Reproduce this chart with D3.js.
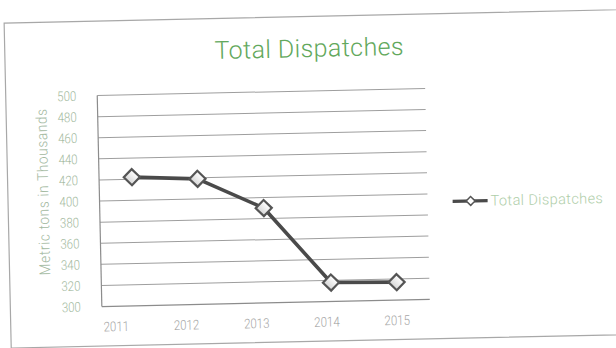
<!DOCTYPE html>
<html>
<head>
<meta charset="utf-8">
<script src="https://cdn.jsdelivr.net/npm/d3@7"></script>
<style>
  html, body { margin: 0; padding: 0; background: #fff; }
  svg { display: block; }
</style>
</head>
<body>
<svg id="chart" width="616" height="348"></svg>
<script>
// Total dispatches, metric tons in thousands
const years = ["2011", "2012", "2013", "2014", "2015"];
const dispatches = [422, 419, 390, 318, 317];
const yTicks = [300, 320, 340, 360, 380, 400, 420, 440, 460, 480, 500];
const titleText = "Total Dispatches";
const yAxisTitle = "Metric tons in Thousands";
const seriesName = "Total Dispatches";

const svg = d3.select("#chart");

// the printed page sits slightly askew
const page = svg.append("g").attr("transform", "rotate(-1.25 308 174)");

// card outline
page.append("rect")
  .attr("x", 7.5).attr("y", 16.5)
  .attr("width", 700).attr("height", 325)
  .attr("fill", "#fff")
  .attr("stroke", "#a8a8a8").attr("stroke-width", 1.2);

const plot = { left: 99, right: 427, top: 91, bottom: 302 };

const x = d3.scaleBand().domain(years).range([plot.left, plot.right]);
const xLabel = d3.scalePoint().domain(years).range([113, 394]);
const y = d3.scaleLinear().domain([300, 500]).range([plot.bottom, plot.top]);

const textFont = "Roboto, 'Liberation Sans', sans-serif";

// title
page.append("text")
  .attr("x", 312).attr("y", 57)
  .attr("text-anchor", "middle")
  .attr("font-family", textFont)
  .attr("font-weight", 300)
  .attr("font-size", 25)
  .attr("letter-spacing", 0.4)
  .attr("fill", "#62a85c")
  .text(titleText);

// horizontal gridlines
page.append("g")
  .selectAll("line")
  .data(yTicks.filter(t => t > 300))
  .join("line")
  .attr("x1", plot.left).attr("x2", plot.right)
  .attr("y1", d => y(d)).attr("y2", d => y(d))
  .attr("stroke", "#9e9e9e").attr("stroke-width", 1);

// axis lines
page.append("line")
  .attr("x1", plot.left).attr("x2", plot.left)
  .attr("y1", y(500)).attr("y2", y(300))
  .attr("stroke", "#8c8c8c").attr("stroke-width", 1.2);
page.append("line")
  .attr("x1", plot.left).attr("x2", plot.right)
  .attr("y1", y(300)).attr("y2", y(300))
  .attr("stroke", "#8c8c8c").attr("stroke-width", 1.2);

// y tick labels, set in a narrow light face
page.append("g")
  .selectAll("text")
  .data(yTicks)
  .join("text")
  .attr("transform", d => `translate(78,${y(d)}) scale(0.85,1)`)
  .attr("dy", "0.35em")
  .attr("text-anchor", "end")
  .attr("font-family", textFont)
  .attr("font-weight", 300)
  .attr("font-size", 13.5)
  .attr("fill", "#a3b99e")
  .text(d => d);

// y axis title
page.append("text")
  .attr("transform", "translate(48,186) rotate(-90) scale(0.9,1)")
  .attr("text-anchor", "middle")
  .attr("font-family", textFont)
  .attr("font-weight", 300)
  .attr("font-size", 15)
  .attr("letter-spacing", 0.8)
  .attr("fill", "#a3b99f")
  .text(yAxisTitle);

// x labels
page.append("g")
  .selectAll("text")
  .data(years)
  .join("text")
  .attr("transform", d => `translate(${xLabel(d)},327) scale(0.85,1)`)
  .attr("text-anchor", "middle")
  .attr("font-family", textFont)
  .attr("font-weight", 300)
  .attr("font-size", 13.5)
  .attr("fill", "#a6a6a6")
  .text(d => d);

// diamond marker fill
const defs = svg.append("defs");
const grad = defs.append("linearGradient")
  .attr("id", "markerFill")
  .attr("x1", 0).attr("y1", 0).attr("x2", 0).attr("y2", 1);
grad.append("stop").attr("offset", "0%").attr("stop-color", "#ffffff");
grad.append("stop").attr("offset", "100%").attr("stop-color", "#d6d6d6");

const cx = d => x(d) + x.bandwidth() / 2;
const pts = years.map((yr, i) => ({ yr, v: dispatches[i] }));

// series line
page.append("path")
  .datum(pts)
  .attr("d", d3.line().x(d => cx(d.yr)).y(d => y(d.v)))
  .attr("fill", "none")
  .attr("stroke", "#4a4a4a")
  .attr("stroke-width", 3.6)
  .attr("stroke-linejoin", "round");

const diamond = d3.symbol().type(d3.symbolSquare);

// point markers
page.append("g")
  .selectAll("path")
  .data(pts)
  .join("path")
  .attr("d", diamond.size(130)())
  .attr("transform", d => `translate(${cx(d.yr)},${y(d.v)}) rotate(45)`)
  .attr("fill", "url(#markerFill)")
  .attr("stroke", "#555")
  .attr("stroke-width", 2.2);

// legend
const lg = page.append("g").attr("transform", "translate(452,204.5)");
lg.append("line")
  .attr("x1", 0).attr("x2", 35)
  .attr("stroke", "#4a4a4a").attr("stroke-width", 3.2);
lg.append("path")
  .attr("d", diamond.size(40)())
  .attr("transform", "translate(18,0) rotate(45)")
  .attr("fill", "#fff")
  .attr("stroke", "#555")
  .attr("stroke-width", 1.5);
lg.append("text")
  .attr("x", 38).attr("y", 0)
  .attr("dy", "0.35em")
  .attr("font-family", textFont)
  .attr("font-weight", 300)
  .attr("font-size", 14.5)
  .attr("letter-spacing", 0.4)
  .attr("fill", "#afcea9")
  .text(seriesName);
</script>
</body>
</html>
